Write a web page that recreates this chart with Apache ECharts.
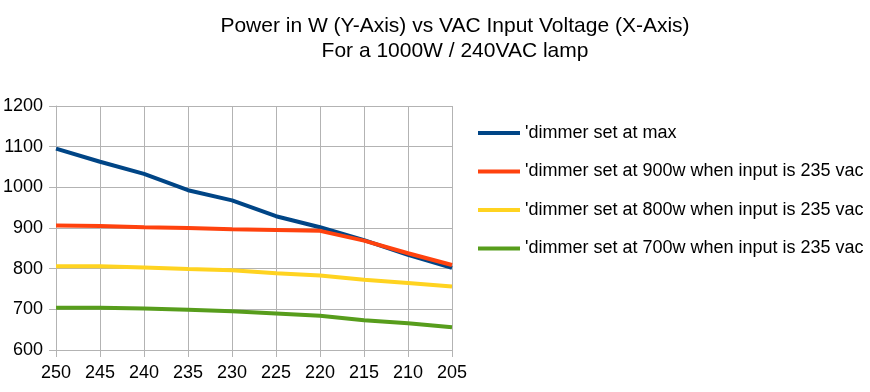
<!DOCTYPE html>
<html><head><meta charset="utf-8">
<script src="https://cdn.jsdelivr.net/npm/echarts@6/dist/echarts.min.js"></script>
<style>html,body{margin:0;padding:0;background:#fff}#c{width:870px;height:392px}</style>
</head><body><div id="c"></div>
<script>
const categories = ['250','245','240','235','230','225','220','215','210','205'];
const seriesNames = ["'dimmer set at max","'dimmer set at 900w when input is 235 vac","'dimmer set at 800w when input is 235 vac","'dimmer set at 700w when input is 235 vac"];
const maxVals = [1095,1063,1033,993,968,929,902,870,834,802];
const v900 = [906,905,902,900,897,895,893,869,838,809];
const v800 = [806,806,803,799,796,789,783,773,765,756];
const v700 = [704,704,702,699,695,690,684,673,666,656];
const colors = ['#004586','#ff420e','#ffd320','#579d1c'];
const font = 'Liberation Sans, Arial, sans-serif';
const data = [maxVals, v900, v800, v700];
const chart = echarts.init(document.getElementById('c'), null, {renderer:'canvas'});
chart.setOption({
  animation:false,
  title:{text:'Power in W (Y-Axis) vs VAC Input Voltage (X-Axis)\nFor a 1000W / 240VAC lamp',left:450,top:9,textAlign:'center',
    textStyle:{fontFamily:font,fontSize:21,fontWeight:'normal',color:'#000',lineHeight:25}},
  grid:{left:55,top:106,width:397,height:244,containLabel:false},
  legend:{orient:'vertical',left:473,top:119,itemGap:20.5,itemWidth:42,itemHeight:4,icon:'rect',
    textStyle:{fontFamily:font,fontSize:18,color:'#000'},
    data:seriesNames},
  xAxis:{type:'category',data:categories,boundaryGap:false,
    axisLine:{show:true,lineStyle:{color:'#b3b3b3'}},
    axisTick:{show:true,length:7,lineStyle:{color:'#b3b3b3'}},
    splitLine:{show:true,lineStyle:{color:'#b3b3b3'}},
    axisLabel:{fontFamily:font,fontSize:18,color:'#000',margin:14}},
  yAxis:{type:'value',min:600,max:1200,interval:100,
    axisLine:{show:true,lineStyle:{color:'#b3b3b3'}},
    axisTick:{show:true,length:7,lineStyle:{color:'#b3b3b3'}},
    splitLine:{show:true,lineStyle:{color:'#b3b3b3'}},
    axisLabel:{fontFamily:font,fontSize:18,color:'#000',margin:13,formatter:v=>String(v)}},
  series: data.map((d,i)=>({name:seriesNames[i],type:'line',data:d,symbol:'none',
    lineStyle:{width:4,color:colors[i]},itemStyle:{color:colors[i]}}))
});
</script></body></html>
